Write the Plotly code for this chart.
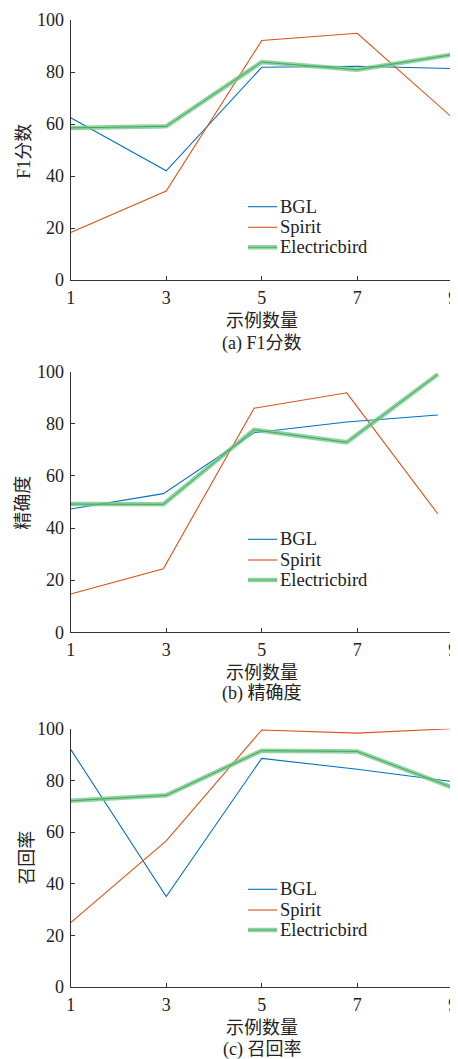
import plotly.graph_objects as go

W, H = 458, 1059
OFF = 8  # page body margin of the browser (px)

x_ticks = [1, 3, 5, 7, 9]
x_a = [1, 3, 5, 7, 9]
x_b = [1, 2.94, 4.84, 6.78, 8.69]
x_c = [1, 3, 5, 7, 9]

f1_bgl = [62.4, 42.0, 81.8, 82.2, 81.3]
f1_spirit = [18.3, 34.2, 92.1, 94.9, 62.3]
f1_elec = [58.5, 59.1, 83.8, 80.9, 86.7]

prec_bgl = [47.3, 53.2, 76.6, 80.7, 83.4]
prec_spirit = [14.7, 24.4, 86.0, 91.9, 45.4]
prec_elec = [49.2, 49.1, 77.7, 72.9, 99.0]

rec_bgl = [92.0, 35.0, 88.5, 84.3, 79.5]
rec_spirit = [24.9, 56.6, 99.5, 98.3, 100.0]
rec_elec = [72.1, 74.2, 91.5, 91.2, 77.2]

series_names = ["BGL", "Spirit", "Electricbird"]
y_titles = ["F1分数", "精确度", "召回率"]
captions = ["(a) F1分数", "(b) 精确度", "(c) 召回率"]
x_title = "示例数量"

panels = [
    (x_a, [f1_bgl, f1_spirit, f1_elec]),
    (x_b, [prec_bgl, prec_spirit, prec_elec]),
    (x_c, [rec_bgl, rec_spirit, rec_elec]),
]

BLUE = "#0072BD"
ORANGE = "#D95319"
GREEN_LIGHT = "rgba(120,200,140,0.8)"
GREEN_DARK = "#3FAA55"
AXIS = "#333333"
TXT = "#222222"
FONT = "Liberation Serif, Times New Roman, Noto Sans CJK SC, serif"

def px_x(p):
    return (p - OFF) / W

def px_y(p):
    return 1 - (p - OFF) / H

# pixel layout (page pixels): (top, bottom) of each plot area
areas = [(20, 280), (371.7, 632.3), (728.7, 987)]
x_left, x_right = 70.7, 452.7
title_y = [321, 672.7, 1027.7]
cap_y = [343, 693.3, 1049.3]
ytitle_pos = [(24, 151.7), (22.7, 503), (26.7, 858)]
legend_rows = [(206.7, 227.3, 247.3), (539.3, 560, 580), (889.3, 910, 930)]
leg_x0, leg_x1, leg_tx = 248, 277, 278

fig = go.Figure()
annotations = []
shapes = []
layout = {}
for i, (xs, ys) in enumerate(panels):
    sfx = "" if i == 0 else str(i + 1)
    xa = "x" + sfx
    ya = "y" + sfx
    fig.add_trace(go.Scatter(x=xs, y=ys[0], mode="lines", name=series_names[0],
                             line=dict(color=BLUE, width=1.1), xaxis=xa, yaxis=ya, showlegend=False))
    fig.add_trace(go.Scatter(x=xs, y=ys[1], mode="lines", name=series_names[1],
                             line=dict(color=ORANGE, width=1.1), xaxis=xa, yaxis=ya, showlegend=False))
    fig.add_trace(go.Scatter(x=xs, y=ys[2], mode="lines", name=series_names[2],
                             line=dict(color=GREEN_LIGHT, width=4.5), xaxis=xa, yaxis=ya, showlegend=False))
    fig.add_trace(go.Scatter(x=xs, y=ys[2], mode="lines", name=series_names[2],
                             line=dict(color=GREEN_DARK, width=1), xaxis=xa, yaxis=ya,
                             showlegend=False, hoverinfo="skip"))
    top, bot = areas[i]
    axis_common = dict(showline=True, linecolor=AXIS, linewidth=1, ticks="inside",
                       ticklen=4, tickcolor=AXIS, tickwidth=1, showgrid=False, zeroline=False,
                       tickfont=dict(family=FONT, size=18, color=TXT), mirror=False,
                       automargin=False, ticklabeloverflow="allow")
    layout["xaxis" + sfx] = dict(domain=[px_x(x_left), px_x(x_right)], range=[1, 9],
                                 tickvals=x_ticks, anchor=ya, ticklabelstandoff=1, **axis_common)
    layout["yaxis" + sfx] = dict(domain=[px_y(bot), px_y(top)], range=[0, 100],
                                 tickvals=[0, 20, 40, 60, 80, 100], anchor=xa,
                                 ticklabelstandoff=2, **axis_common)
    cx = (x_left + x_right) / 2
    annotations.append(dict(text=x_title, x=px_x(cx), y=px_y(title_y[i]), xref="paper", yref="paper",
                            xanchor="center", yanchor="middle", showarrow=False,
                            font=dict(family=FONT, size=18, color=TXT)))
    annotations.append(dict(text=captions[i], x=px_x(cx), y=px_y(cap_y[i]), xref="paper", yref="paper",
                            xanchor="center", yanchor="middle", showarrow=False,
                            font=dict(family=FONT, size=18, color=TXT)))
    tx, ty = ytitle_pos[i]
    annotations.append(dict(text=y_titles[i], x=px_x(tx), y=px_y(ty), xref="paper", yref="paper",
                            xanchor="center", yanchor="middle", showarrow=False, textangle=-90,
                            font=dict(family=FONT, size=18, color=TXT)))
    # legend (drawn as key lines + text)
    styles = [[(BLUE, 1.1)], [(ORANGE, 1.1)], [(GREEN_LIGHT, 4.5), (GREEN_DARK, 0.8)]]
    for name, ry, sty in zip(series_names, legend_rows[i], styles):
        for col, wd in sty:
            shapes.append(dict(type="line", xref="paper", yref="paper",
                               x0=px_x(leg_x0), x1=px_x(leg_x1), y0=px_y(ry), y1=px_y(ry),
                               line=dict(color=col, width=wd)))
        annotations.append(dict(text=name, x=px_x(leg_tx), y=px_y(ry), xref="paper", yref="paper",
                                xanchor="left", yanchor="middle", showarrow=False,
                                font=dict(family=FONT, size=18.5, color=TXT)))

fig.update_layout(width=W, height=H, margin=dict(l=0, r=0, t=0, b=0, autoexpand=False),
                  paper_bgcolor="white", plot_bgcolor="white", showlegend=False,
                  annotations=annotations, shapes=shapes, **layout)
fig.write_html("out.html")
